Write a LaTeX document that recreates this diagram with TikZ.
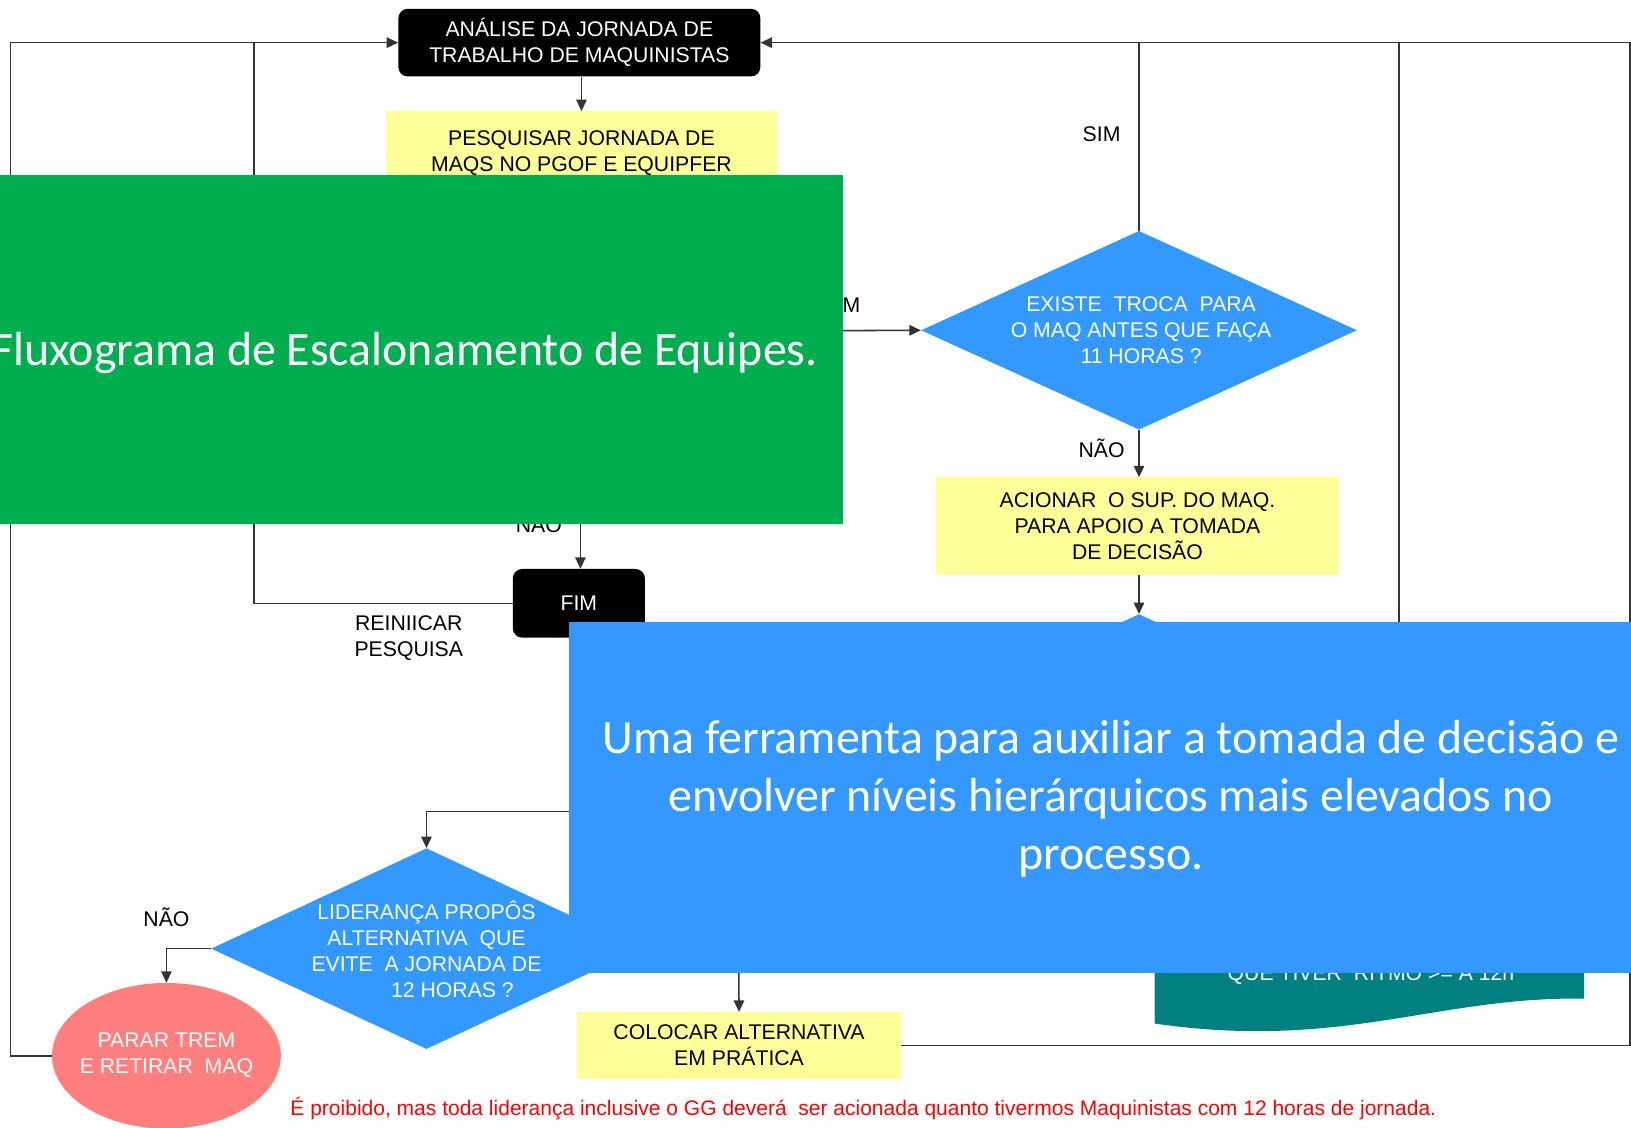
\documentclass[tikz,border=0pt]{standalone}
\usepackage{fontspec}
\setmainfont{Liberation Sans}
\newfontfamily\calibri{Carlito}
\usetikzlibrary{arrows.meta,shapes.geometric}
\definecolor{yel}{HTML}{FFFF99}
\definecolor{dblue}{HTML}{3399FF}
\definecolor{ovgreen}{HTML}{00AE50}
\definecolor{ovblue}{HTML}{3598FE}
\definecolor{tealdoc}{HTML}{008080}
\definecolor{salmon}{HTML}{FF7F7F}
\definecolor{ln}{HTML}{333333}
\begin{document}
\begin{tikzpicture}[x=1pt,y=-1pt,
  ft/.style={font=\fontsize{20.4}{25}\selectfont, align=center},
  term/.style={ft, fill=black, text=white, rounded corners=9pt, inner sep=0pt},
  proc/.style={ft, fill=yel, inner sep=0pt},
  dec/.style={diamond, fill=dblue, inner sep=0pt},
  lbl/.style={ft, inner sep=0pt},
  wl/.style={ft, text=white, inner sep=0pt},
  conn/.style={draw=ln, line width=1.5pt},
  arr/.style={conn, -{Triangle[length=11pt,width=10pt]}},
  ovbox/.style={anchor=north west, inner sep=0pt},
  ovtext/.style={text=white, align=center, font=\calibri\fontsize{46}{56}\selectfont, inner sep=0pt}
]
\useasboundingbox (0,0) rectangle (1568,1084);
\fill[white] (0,0) rectangle (1568,1084);

% nodes
\node[term, minimum width=348pt, minimum height=65pt] (ana) at (557,41) {ANÁLISE DA JORNADA DE\\TRABALHO DE MAQUINISTAS};
\node[proc, minimum width=376pt, minimum height=81pt] (pes) at (559,147.5) {PESQUISAR JORNADA DE\\MAQS NO PGOF E EQUIPFER};
\node[dec, minimum width=419pt, minimum height=191pt] (d1) at (1095,317.5) {};
\node[wl] (d1t) at (1097,317) {EXISTE\ \ TROCA\ \ PARA\\O MAQ ANTES QUE FAÇA\\11 HORAS ?};
\node[proc, minimum width=387pt, minimum height=94pt] (aci) at (1093.5,506) {ACIONAR\ \ O SUP. DO MAQ.\\PARA APOIO A TOMADA\\DE DECISÃO};
\node[dec, minimum width=419pt, minimum height=191pt] (d2) at (1095,686) {};
\node[term, minimum width=127pt, minimum height=66pt] (fim) at (556.5,580) {FIM};
\node[dec, minimum width=414pt, minimum height=193pt] (d3) at (410,912) {};
\node[wl] (d3t) at (410,912.5) {LIDERANÇA PROPÔS\\ALTERNATIVA\ \ QUE\\EVITE\ \ A JORNADA DE\\\hspace*{50pt}12 HORAS ?};
\node[ellipse, fill=salmon, minimum width=220pt, minimum height=140pt, inner sep=0pt] (par) at (160,1015) {};
\node[wl] (part) at (160,1014.5) {PARAR TREM\\E RETIRAR\ \ MAQ};
\node[proc, minimum width=311pt, minimum height=64pt] (col) at (710.5,1005) {COLOCAR ALTERNATIVA\\EM PRÁTICA};

% document shape (teal)
\fill[tealdoc] (1110,870) -- (1523,870) -- (1523,960) .. controls (1380,958) and (1290,1010) .. (1110,984) -- cycle;
\node[wl] (doct) at (1318,937) {QUE TIVER\ \ RITMO >= A 12h};

% labels
\node[lbl] (sim1) at (1059,129) {SIM};
\node[lbl] (nao1) at (1059,431) {NÃO};
\node[lbl] (sim2) at (809,293) {SIM};
\node[lbl] (nao2) at (518,503) {NÃO};
\node[lbl] (rei) at (393,613.5) {REINIICAR\\PESQUISA};
\node[lbl] (nao3) at (160,882) {NÃO};
\node[text=red, font=\fontsize{20.2}{22}\selectfont, inner sep=0pt] (note) at (830,1066) {É proibido, mas toda liderança inclusive o GG deverá\ \ ser acionada quanto tivermos Maquinistas com 12 horas de jornada.};

% coordinates
\coordinate (cl) at (10,41);
\coordinate (cm) at (244,41);
\coordinate (cr) at (1567,41);
\coordinate (ct) at (1345,41);
\coordinate (cd) at (1345,880);
\coordinate (g1) at (780,318);
\coordinate (g2) at (558,480);
\coordinate (b1) at (600,780);
\coordinate (b2) at (710,900);

% connectors
\draw[arr] (par.west) -| (cl) -- (ana.west);
\draw[conn] (fim.west) -| (cm);
\draw[arr] (col.east) -| (cr) -- (ana.east);
\draw[conn] (d1.north) -- (d1.north |- cr);
\draw[conn] (cd) -- (ct);
\draw[arr] (ana.south -| pes.north) -- (pes.north);
\draw[arr] (g1) -- (d1.west);
\draw[arr] (d1.south) -- (d1.south |- aci.north);
\draw[arr] (d1.south |- aci.south) -- (d2.north);
\draw[arr] (g2) -- (g2 |- fim.north);
\draw[arr] (b1) -| (d3.north);
\draw[arr] (d3.west) -| (par.north);
\draw[arr] (b2) -- (col.north);

% overlays
\node[ovbox, fill=ovgreen, minimum width=810pt, minimum height=336pt] (gbox) at (0,168) {};
\node[ovtext] (gtext) at (389,339) {Fluxograma de Escalonamento de Equipes.};
\node[ovbox, fill=ovblue, minimum width=1021pt, minimum height=337pt] (bbox) at (547,598) {};
\node[ovtext] (btext) at (1068,768) {Uma ferramenta para auxiliar a tomada de decisão e\\envolver níveis hierárquicos mais elevados no\\processo.};
\end{tikzpicture}
\end{document}
